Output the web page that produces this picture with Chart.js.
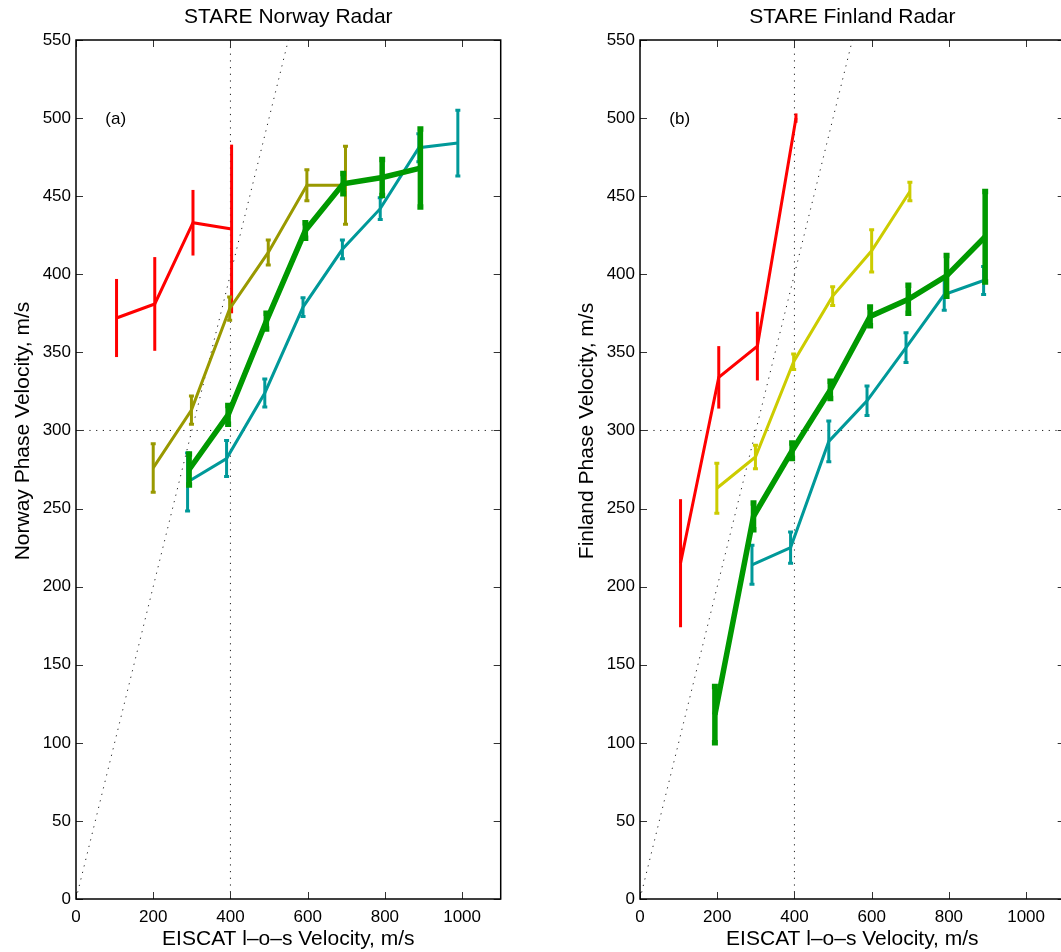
<!DOCTYPE html>
<html>
<head>
<meta charset="utf-8">
<script src="https://cdn.jsdelivr.net/npm/chart.js@4"></script>
<style>
  html, body { margin: 0; padding: 0; background: #fff; overflow: hidden; }
  #page { position: relative; width: 1061px; height: 952px; overflow: hidden; }
  .panel { position: absolute; top: 0; width: 530px; height: 952px; }
</style>
</head>
<body>
<div id="page">
  <div class="panel" style="left:0"><canvas id="norway"></canvas></div>
  <div class="panel" style="left:564px"><canvas id="finland"></canvas></div>
</div>
<script>
/* global Chart */

const xTicks = [0, 200, 400, 600, 800, 1000];
const yTicks = [0, 50, 100, 150, 200, 250, 300, 350, 400, 450, 500, 550];

// reference lines (dotted)
const diagX = [0, 550];
const diagY = [0, 550];
const vertX = [400, 400];
const vertY = [0, 550];
const horX = [0, 1100];
const horY = [300, 300];

// STARE Norway
const norRedX = [105, 204, 303, 403];
const norRedY = [372, 381, 433, 429];
const norRedErr = [25, 30, 21, 54];

const norOliveX = [200, 299, 398, 498, 598, 698];
const norOliveY = [276, 313, 378, 414, 457, 457];
const norOliveErr = [15.5, 9, 7.5, 8, 10, 25];

const norGreenX = [293, 394, 493, 594, 692, 793, 892];
const norGreenY = [275, 310, 370, 428, 458, 462, 468];
const norGreenErr = [10, 6, 5, 5, 6.5, 11.5, 25];

const norTealX = [289, 390, 489, 588, 690, 788, 888, 989];
const norTealY = [267, 282, 324, 379, 416, 442, 481, 484];
const norTealErr = [18.5, 11.5, 9, 6, 6, 7, 9, 21];

// STARE Finland
const finRedX = [105, 204, 304, 404];
const finRedY = [215, 334, 354, 500];
const finRedErr = [41, 20, 22, 3];

const finYellowX = [199, 299, 398, 499, 600, 699];
const finYellowY = [263, 283, 344, 386, 415, 453];
const finYellowErr = [16, 7.5, 5, 6, 13.5, 6];

const finGreenX = [194, 294, 394, 493, 596, 695, 794, 894];
const finGreenY = [118, 245, 287, 326, 373, 384, 399, 424];
const finGreenErr = [18, 8.5, 5, 5.5, 6, 9, 13, 29];

const finTealX = [290, 390, 489, 588, 689, 788, 890];
const finTealY = [214, 225, 293, 319, 353, 387, 396];
const finTealErr = [12.5, 10, 13, 9.5, 9.5, 10, 9];

const FONT = '"Liberation Sans", Arial, Helvetica, sans-serif';

function points(xs, ys) {
  return xs.map((v, i) => ({ x: v, y: ys[i] }));
}

function series(xs, ys, err, color, width, cap, order) {
  return {
    data: points(xs, ys),
    errors: err,
    capHalf: cap,
    borderColor: color,
    backgroundColor: color,
    borderWidth: width,
    showLine: true,
    pointRadius: 0,
    tension: 0,
    order,
  };
}

function dotted(xs, ys) {
  return {
    data: points(xs, ys),
    borderColor: '#222',
    borderWidth: 1,
    borderDash: [1.2, 5.5],
    showLine: true,
    pointRadius: 0,
    order: 10,
  };
}

// vertical error bars, drawn straight after their own line
const errorBars = {
  id: 'errorBars',
  afterDatasetDraw(chart, args) {
    const ds = chart.data.datasets[args.index];
    if (!ds.errors) return;
    const xs = chart.scales.x;
    const ys = chart.scales.y;
    const ctx = chart.ctx;
    ctx.save();
    ctx.strokeStyle = ds.borderColor;
    ctx.lineWidth = ds.borderWidth;
    ctx.lineCap = 'butt';
    ds.data.forEach((p, i) => {
      const px = xs.getPixelForValue(p.x);
      const top = ys.getPixelForValue(p.y + ds.errors[i]);
      const bot = ys.getPixelForValue(p.y - ds.errors[i]);
      ctx.beginPath();
      ctx.moveTo(px, top);
      ctx.lineTo(px, bot);
      if (ds.capHalf) {
        ctx.moveTo(px - ds.capHalf, top);
        ctx.lineTo(px + ds.capHalf, top);
        ctx.moveTo(px - ds.capHalf, bot);
        ctx.lineTo(px + ds.capHalf, bot);
      }
      ctx.stroke();
    });
    ctx.restore();
  },
};

// matlab style box with inward ticks, rotated y label and panel letter
const frame = {
  id: 'frame',
  afterDraw(chart, args, opts) {
    const { ctx, chartArea: a } = chart;
    const xs = chart.scales.x;
    const ys = chart.scales.y;
    const tl = 7;
    ctx.save();
    ctx.strokeStyle = '#333';
    ctx.lineWidth = 1;
    ctx.beginPath();
    xs.ticks.forEach((t) => {
      const px = Math.round(xs.getPixelForValue(t.value)) + 0.5;
      ctx.moveTo(px, a.bottom);
      ctx.lineTo(px, a.bottom - tl);
      ctx.moveTo(px, a.top);
      ctx.lineTo(px, a.top + tl);
    });
    ys.ticks.forEach((t) => {
      const py = Math.round(ys.getPixelForValue(t.value)) + 0.5;
      ctx.moveTo(a.left, py);
      ctx.lineTo(a.left + tl, py);
      ctx.moveTo(a.right, py);
      ctx.lineTo(a.right - tl, py);
    });
    ctx.stroke();
    ctx.strokeStyle = '#000';
    ctx.lineWidth = 1.5;
    ctx.strokeRect(a.left, a.top, a.right - a.left, a.bottom - a.top);

    ctx.fillStyle = '#000';
    ctx.font = `21px ${FONT}`;
    ctx.textAlign = 'center';
    ctx.textBaseline = 'middle';
    ctx.translate(opts.labelX, opts.labelY);
    ctx.rotate(-Math.PI / 2);
    ctx.fillText(opts.yLabel, 0, 0);
    ctx.restore();

    ctx.save();
    ctx.fillStyle = '#000';
    ctx.font = `17px ${FONT}`;
    ctx.textAlign = 'left';
    ctx.textBaseline = 'middle';
    ctx.fillText(opts.letter, xs.getPixelForValue(opts.letterX), ys.getPixelForValue(opts.letterY));
    ctx.restore();
  },
};

function makeChart(id, title, yLabel, letter, datasets) {
  return new Chart(document.getElementById(id), {
    type: 'scatter',
    data: { datasets },
    plugins: [errorBars, frame],
    options: {
      responsive: true,
      maintainAspectRatio: false,
      animation: false,
      events: [],
      layout: { padding: { left: 0, right: 29.3, top: 0, bottom: 0 } },
      plugins: {
        legend: { display: false },
        tooltip: { enabled: false },
        title: {
          display: true,
          text: title,
          fullSize: false,
          color: '#000',
          font: { family: FONT, size: 21, weight: 'normal' },
          padding: { top: 5, bottom: 9.8 },
        },
        frame: {
          yLabel, labelX: 23, labelY: 431, letter, letterX: 76, letterY: 499,
        },
      },
      scales: {
        x: {
          type: 'linear',
          min: 0,
          max: 1100,
          afterBuildTicks: (axis) => { axis.ticks = xTicks.map((v) => ({ value: v })); },
          afterFit: (axis) => { axis.height = 53; },
          grid: { display: false, drawTicks: false },
          border: { display: false },
          ticks: {
            color: '#000',
            padding: 8,
            maxRotation: 0,
            font: { family: FONT, size: 17 },
            callback: (v) => String(v),
          },
          title: {
            display: true,
            text: 'EISCAT l\u2013o\u2013s Velocity, m/s',
            color: '#000',
            font: { family: FONT, size: 21 },
            padding: { top: 0, bottom: 0 },
          },
        },
        y: {
          type: 'linear',
          min: 0,
          max: 550,
          afterBuildTicks: (axis) => { axis.ticks = yTicks.map((v) => ({ value: v })); },
          afterFit: (axis) => { axis.width = 76; },
          grid: { display: false, drawTicks: false },
          border: { display: false },
          ticks: {
            color: '#000',
            padding: 5,
            font: { family: FONT, size: 17 },
            callback: (v) => String(v),
          },
        },
      },
    },
  });
}

makeChart('norway', 'STARE Norway Radar', 'Norway Phase Velocity, m/s', '(a)', [
  dotted(diagX, diagY),
  dotted(vertX, vertY),
  dotted(horX, horY),
  series(norRedX, norRedY, norRedErr, '#ff0000', 3, 0, 5),
  series(norOliveX, norOliveY, norOliveErr, '#999900', 3, 2.5, 4),
  series(norTealX, norTealY, norTealErr, '#009999', 3, 2.5, 3),
  series(norGreenX, norGreenY, norGreenErr, '#009900', 5.5, 3, 2),
]);

makeChart('finland', 'STARE Finland Radar', 'Finland Phase Velocity, m/s', '(b)', [
  dotted(diagX, diagY),
  dotted(vertX, vertY),
  dotted(horX, horY),
  series(finRedX, finRedY, finRedErr, '#ff0000', 3, 0, 5),
  series(finYellowX, finYellowY, finYellowErr, '#cccc00', 3, 2.5, 4),
  series(finTealX, finTealY, finTealErr, '#009999', 3, 2.5, 3),
  series(finGreenX, finGreenY, finGreenErr, '#009900', 5.5, 3, 2),
]);
</script>
</body>
</html>
